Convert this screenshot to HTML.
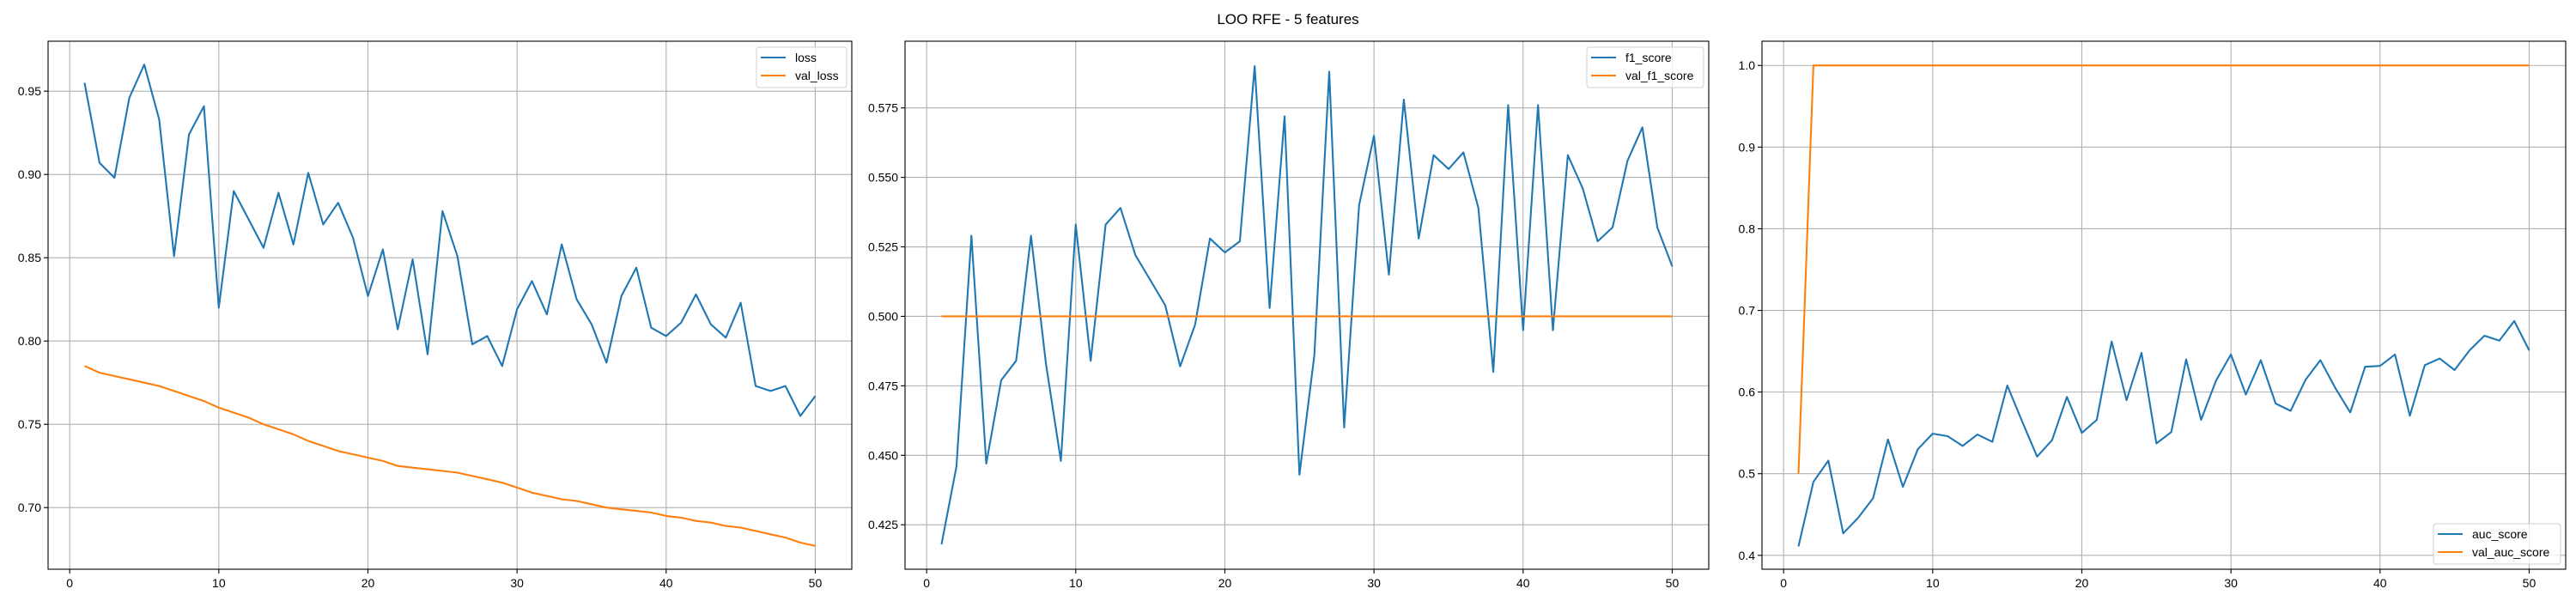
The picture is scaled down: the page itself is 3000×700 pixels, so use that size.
<!DOCTYPE html>
<html><head><meta charset="utf-8"><style>
html,body{margin:0;padding:0;background:#fff;}
svg{display:block;font-family:"Liberation Sans","DejaVu Sans",sans-serif;}
</style></head><body>
<svg id="fig" width="3000" height="700" xmlns="http://www.w3.org/2000/svg">
<text x="1500" y="28" text-anchor="middle" font-size="17" fill="#000">LOO RFE - 5 features</text>
</svg>
<script>
const epochs = Array.from({length:50},(_,i)=>i+1);
const lossValues = [0.955,0.907,0.898,0.946,0.966,0.933,0.851,0.924,0.941,0.820,0.890,0.873,0.856,0.889,0.858,0.901,0.870,0.883,0.862,0.827,0.855,0.807,0.849,0.792,0.878,0.851,0.798,0.803,0.785,0.819,0.836,0.816,0.858,0.825,0.810,0.787,0.827,0.844,0.808,0.803,0.811,0.828,0.810,0.802,0.823,0.773,0.770,0.773,0.755,0.767];
const valLossValues = [0.785,0.781,0.779,0.777,0.775,0.773,0.770,0.767,0.764,0.760,0.757,0.754,0.750,0.747,0.744,0.740,0.737,0.734,0.732,0.730,0.728,0.725,0.724,0.723,0.722,0.721,0.719,0.717,0.715,0.712,0.709,0.707,0.705,0.704,0.702,0.700,0.699,0.698,0.697,0.695,0.694,0.692,0.691,0.689,0.688,0.686,0.684,0.682,0.679,0.677];
const f1Values = [0.418,0.446,0.529,0.447,0.477,0.484,0.529,0.483,0.448,0.533,0.484,0.533,0.539,0.522,0.513,0.504,0.482,0.497,0.528,0.523,0.527,0.590,0.503,0.572,0.443,0.486,0.588,0.460,0.540,0.565,0.515,0.578,0.528,0.558,0.553,0.559,0.539,0.480,0.576,0.495,0.576,0.495,0.558,0.546,0.527,0.532,0.556,0.568,0.532,0.518];
const valF1Values = Array(50).fill(0.5);
const aucValues = [0.411,0.490,0.516,0.427,0.446,0.470,0.542,0.484,0.530,0.549,0.546,0.534,0.548,0.539,0.608,0.564,0.521,0.541,0.594,0.550,0.566,0.662,0.590,0.648,0.537,0.551,0.640,0.566,0.614,0.646,0.597,0.639,0.586,0.577,0.615,0.639,0.605,0.575,0.631,0.632,0.646,0.571,0.633,0.641,0.627,0.651,0.669,0.663,0.687,0.651];
const valAucValues = [0.5].concat(Array(49).fill(1.0));
const xTicks = [0,10,20,30,40,50];
const yTicks1 = [0.70,0.75,0.80,0.85,0.90,0.95];
const yTicks2 = [0.425,0.450,0.475,0.500,0.525,0.550,0.575];
const yTicks3 = [0.4,0.5,0.6,0.7,0.8,0.9,1.0];

const NS="http://www.w3.org/2000/svg";
const svg=document.getElementById('fig');
function mk(tag,attrs,parent){const e=document.createElementNS(NS,tag);for(const k in attrs)e.setAttribute(k,attrs[k]);(parent||svg).appendChild(e);return e;}

const panels=[
 {key:'loss',left:56,ymin:0.663,ymax:0.980,ticks:yTicks1,dec:2,series:[['loss',lossValues,'#1f77b4'],['val_loss',valLossValues,'#ff7f0e']],legend:'top'},
 {key:'f1',left:1054,ymin:0.409,ymax:0.599,ticks:yTicks2,dec:3,series:[['f1_score',f1Values,'#1f77b4'],['val_f1_score',valF1Values,'#ff7f0e']],legend:'top'},
 {key:'auc',left:2052,ymin:0.383,ymax:1.0297,ticks:yTicks3,dec:1,series:[['auc_score',aucValues,'#1f77b4'],['val_auc_score',valAucValues,'#ff7f0e']],legend:'bottom'}
];
const axTop=48,axBottom=663,W=936,H=axBottom-axTop;
panels.forEach(p=>{
 const g=mk('g',{});
 
 
 const xs=v=>p.left+(v+1.45)/53.9*W;
 const ys=v=>axBottom-(v-p.ymin)/(p.ymax-p.ymin)*H;
 xTicks.forEach(t=>{
  const x=xs(t);
  const l=mk('line',{x1:x,x2:x,y1:axTop,y2:axBottom,stroke:'#b0b0b0','stroke-width':1.1},g);
  
  
  mk('line',{x1:x,x2:x,y1:axBottom,y2:axBottom+5,stroke:'#000','stroke-width':1.1},g);
  const tx=mk('text',{x:x,y:axBottom+21,'text-anchor':'middle','font-size':14,fill:'#000'},g);
  
  
  tx.textContent=t;
 });
 p.ticks.forEach(t=>{
  const y=ys(t);
  const l=mk('line',{x1:p.left,x2:p.left+W,y1:y,y2:y,stroke:'#b0b0b0','stroke-width':1.1},g);
  
  
  mk('line',{x1:p.left-5,x2:p.left,y1:y,y2:y,stroke:'#000','stroke-width':1.1},g);
  const tx=mk('text',{x:p.left-8,y:y+5,'text-anchor':'end','font-size':14,fill:'#000'},g);
  
  
  tx.textContent=t.toFixed(p.dec);
 });
 p.series.forEach(s=>{
  const pts=epochs.map((e,i)=>xs(e).toFixed(1)+','+ys(s[1][i]).toFixed(1)).join(' ');
  const pl=mk('polyline',{points:pts,fill:'none',stroke:s[2],'stroke-width':2.1,'stroke-linejoin':'round'},g);
  
  
 });
 const fr=mk('rect',{x:p.left,y:axTop,width:W,height:H,fill:'none',stroke:'#000','stroke-width':1.1},g);
 
 
 const lw=p.key==='loss'?105:(p.key==='f1'?136:148);
 const lx=p.left+W-6-lw;
 const ly=p.legend==='top'?axTop+7:axBottom-6-47;
 const lg=mk('g',{},g);
 
 
 mk('rect',{x:lx,y:ly,width:lw,height:47,rx:3,fill:'#fff','fill-opacity':0.8,stroke:'#d0d0d0','stroke-width':1},lg);
 p.series.forEach((s,i)=>{
  const yy=ly+12+i*21;
  mk('line',{x1:lx+5,x2:lx+34,y1:yy,y2:yy,stroke:s[2],'stroke-width':2.1},lg);
  const t=mk('text',{x:lx+45,y:yy+5,'font-size':14,fill:'#000'},lg);
  
  
  t.textContent=s[0];
 });
});
</script>
</body></html>
